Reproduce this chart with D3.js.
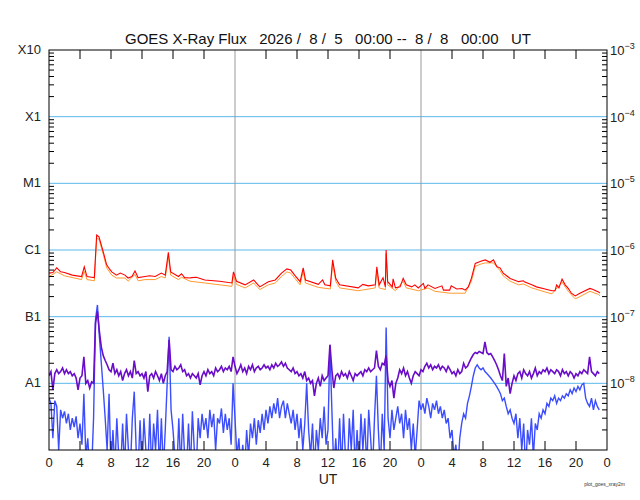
<!DOCTYPE html>
<html><head><meta charset="utf-8">
<script src="https://cdn.jsdelivr.net/npm/d3@7"></script>
<style>body{margin:0;background:#fff}</style>
</head><body>
<svg id="c" width="640" height="500"></svg>
<script>
// ---------- DATA ----------
const titleText = "GOES X-Ray Flux   2026 /  8 /  5   00:00 --  8 /  8   00:00   UT";
const classLabels = ["X10","X1","M1","C1","B1","A1"];
const classFlux   = [1e-3, 1e-4, 1e-5, 1e-6, 1e-7, 1e-8];
const powerLabels = ["-3","-4","-5","-6","-7","-8"];
const hourTickLabels = ["0","4","8","12","16","20","0","4","8","12","16","20","0","4","8","12","16","20","0"];
const totalHours = 72;

// Long channel, primary (red): [hour, W/m^2]
const redData = [
[0,4.5e-7],[0.5,4.6e-7],[1.0,5.4e-7],[1.5,4.7e-7],[2.0,4.6e-7],[3.0,4.2e-7],[4.2,4.0e-7],[4.55,5.6e-7],[4.9,4.0e-7],[5.5,3.9e-7],[5.85,3.85e-7],
[6.15,1.68e-6],[6.45,1.58e-6],[7.0,9.4e-7],[7.44,6.0e-7],[7.8,5.2e-7],[8.1,4.7e-7],[8.7,4.2e-7],[9.2,4.5e-7],[9.8,4.2e-7],[10.2,3.8e-7],[10.7,4.0e-7],
[11.1,4.85e-7],[11.5,3.85e-7],[12.4,4.0e-7],[13.0,4.1e-7],[13.7,4.0e-7],[14.5,4.5e-7],[15.0,4.2e-7],[15.4,9.2e-7],[15.7,4.7e-7],[16.7,4.0e-7],[17.1,4.4e-7],
[17.5,3.85e-7],[18.2,3.8e-7],[18.4,3.85e-7],[19.0,3.9e-7],[20.1,3.55e-7],[22.0,3.4e-7],[23.6,3.2e-7],[23.8,4.7e-7],[24.2,3.4e-7],[25.3,3.0e-7],[26.4,3.55e-7],
[27.2,2.8e-7],[28.3,3.35e-7],[29.2,3.55e-7],[30.0,4.5e-7],[30.7,5.2e-7],[31.2,5.0e-7],[31.7,4.2e-7],[32.4,3.35e-7],[32.8,5.4e-7],[33.1,3.55e-7],[34.75,3.05e-7],
[35.3,3.55e-7],[35.6,3.0e-7],[36.3,2.9e-7],[36.6,7.1e-7],[37.0,3.75e-7],[37.5,3.0e-7],[39.9,2.7e-7],[40.5,3.05e-7],[41.2,2.9e-7],[42.1,3.0e-7],[42.3,5.6e-7],
[42.6,3.0e-7],[43.1,3.85e-7],[43.4,2.8e-7],[43.5,1.0e-6],[43.7,3.35e-7],[44.3,2.8e-7],[44.4,3.7e-7],[44.7,2.7e-7],[45.3,2.8e-7],[45.7,3.75e-7],[46.1,3.0e-7],
[46.8,2.8e-7],[47.2,3.0e-7],[47.65,2.7e-7],[48.3,3.15e-7],[48.5,2.65e-7],[48.9,3.0e-7],[49.8,2.65e-7],[50.7,2.9e-7],[50.9,2.5e-7],[51.7,2.5e-7],[51.9,2.9e-7],
[52.6,2.6e-7],[53.3,2.65e-7],[53.7,2.5e-7],[54.1,2.8e-7],[54.5,3.75e-7],[55.0,6.3e-7],[55.8,6.85e-7],[56.3,7.1e-7],[56.9,6.55e-7],[57.35,7.1e-7],[57.8,5.6e-7],
[58.2,5.4e-7],[58.6,4.5e-7],[59.5,3.75e-7],[60.6,3.35e-7],[61.2,3.45e-7],[61.4,3.3e-7],[62.3,3.0e-7],[62.9,2.8e-7],[64.0,2.6e-7],[64.9,2.45e-7],[65.3,2.45e-7],
[65.5,3.0e-7],[65.8,2.7e-7],[66.2,3.65e-7],[66.6,3.0e-7],[67.0,2.65e-7],[67.4,2.25e-7],[67.9,2.05e-7],[68.5,2.25e-7],[69.8,2.65e-7],[70.2,2.55e-7],[70.9,2.35e-7],[71.1,2.25e-7]
];

// Long channel, secondary (orange): [hour, W/m^2]
const orangeData = [
[0,4.0e-7],[1.0,4.7e-7],[2.0,4.1e-7],[4.2,3.6e-7],[4.55,4.8e-7],[4.9,3.6e-7],[5.85,3.45e-7],[6.15,1.5e-6],[6.45,1.45e-6],[7.0,8.6e-7],[7.44,5.4e-7],
[8.1,4.2e-7],[8.7,3.8e-7],[9.8,3.8e-7],[10.2,3.4e-7],[11.1,4.3e-7],[11.5,3.45e-7],[12.4,3.6e-7],[13.7,3.6e-7],[14.5,4.0e-7],[15.0,3.8e-7],[15.4,8.0e-7],
[15.7,4.2e-7],[16.7,3.6e-7],[17.1,3.9e-7],[18.2,3.4e-7],[20.1,3.2e-7],[23.6,2.85e-7],[23.8,4.1e-7],[24.2,3.05e-7],[25.3,2.7e-7],[26.4,3.2e-7],[27.2,2.55e-7],
[28.3,3.0e-7],[29.2,3.2e-7],[30.0,4.0e-7],[30.7,4.7e-7],[31.2,4.5e-7],[31.7,3.8e-7],[32.4,3.0e-7],[32.8,4.8e-7],[33.1,3.2e-7],[34.75,2.75e-7],[36.3,2.6e-7],
[36.6,6.3e-7],[37.0,3.4e-7],[37.5,2.7e-7],[39.9,2.45e-7],[42.1,2.7e-7],[42.3,5.0e-7],[42.6,2.7e-7],[43.4,2.55e-7],[43.5,8.8e-7],[43.7,3.0e-7],[44.7,2.45e-7],
[45.7,3.4e-7],[46.1,2.7e-7],[47.65,2.45e-7],[48.9,2.7e-7],[49.8,2.4e-7],[51.7,2.25e-7],[53.7,2.25e-7],[54.5,3.4e-7],[55.0,5.7e-7],[55.8,6.2e-7],[56.3,6.4e-7],
[57.35,6.4e-7],[58.2,4.9e-7],[58.6,4.1e-7],[59.5,3.4e-7],[60.6,3.0e-7],[61.2,3.1e-7],[62.3,2.7e-7],[64.0,2.35e-7],[64.9,2.2e-7],[66.2,3.3e-7],[67.0,2.4e-7],
[67.9,1.85e-7],[68.5,2.0e-7],[69.8,2.4e-7],[70.9,2.15e-7],[71.1,2.05e-7]
];

// Short channels, sampled every 15 minutes from 00:00, in units of 1e-8 W/m^2
const shortStepHours = 0.25;
const shortUnit = 1e-8;
const purpleValues = [
1.3,1.5,0.8,1.4,1.6,1.4,1.5,1.7,1.4,1.6,1.4,1.5,1.3,1.4,1.2,0.8,
1.2,1.3,2.5,1.0,1.1,0.85,1.05,1.0,8,12,6,3.5,2.6,2.2,1.9,1.6,
1.5,2.0,1.4,1.6,1.3,1.5,1.1,1.4,1.6,1.3,1.5,1.2,2.2,1.4,1.5,1.3,
1.4,1.2,1.5,0.75,1.3,1.4,1.2,1.5,1.3,1.1,1.4,1.0,1.3,1.5,4.5,1.6,
1.5,1.8,1.6,1.7,1.9,1.5,1.6,1.3,1.4,1.2,1.4,1.3,1.2,1.4,0.95,1.3,
1.5,1.3,1.6,1.4,1.5,1.3,1.7,1.5,1.6,1.8,1.5,1.7,1.6,1.8,1.5,2.5,
1.8,1.4,1.6,1.9,1.5,1.7,1.4,1.8,1.6,1.9,1.5,1.7,1.8,1.6,1.7,1.9,
1.7,1.8,1.6,1.9,1.7,2.0,1.8,1.9,2.1,1.8,2.0,1.7,1.6,1.5,1.7,1.4,
1.5,1.3,1.4,1.2,1.5,1.1,1.2,1.0,1.1,0.65,1.0,1.2,0.9,1.3,1.1,1.2,
1.3,3.8,1.6,0.85,1.3,1.4,1.2,1.5,1.3,1.4,1.2,1.5,1.3,1.1,1.4,1.3,
1.4,1.5,1.3,1.6,1.5,1.7,1.5,1.6,1.7,3.1,1.8,1.6,2.0,1.9,2.6,1.1,
0.9,1.1,0.6,1.0,1.2,1.6,1.4,1.7,1.3,1.5,1.2,1.0,1.3,1.5,1.4,1.3,
1.6,1.5,1.8,2.0,1.7,1.9,1.6,1.8,1.7,1.9,1.6,1.8,1.7,1.5,1.8,1.6,
1.4,1.5,1.3,1.6,1.4,1.5,2.0,1.7,1.8,2.1,2.4,2.7,2.9,2.8,3.0,2.9,
2.8,4.2,2.9,2.7,2.8,2.5,2.2,1.9,1.6,1.3,1.1,2.8,0.9,1.2,0.7,1.0,
1.3,1.1,1.4,1.5,1.2,1.6,1.4,1.3,1.5,1.2,1.4,1.7,1.3,1.5,1.4,1.6,
1.5,1.7,1.4,1.6,1.5,1.4,1.6,1.5,1.3,1.6,1.4,1.5,1.3,1.5,1.4,1.2,
1.4,1.3,1.5,1.4,1.6,1.5,1.4,2.5,1.5,1.4,1.3,1.5,1.4
];
const blueValues = [
0.6,0.5,0.15,0.55,0.45,0.1,0.4,0.3,0.38,0.25,0.35,0.2,0.3,0.22,0.32,0.15,
0.25,0.12,0.7,0.08,0.15,0.05,0.05,0.3,9,15,5,2.0,0.8,0.3,0.1,0.7,
0.05,0.2,0.05,0.3,0.08,0.05,0.25,0.05,0.35,0.1,0.05,0.3,0.75,0.1,0.05,0.28,
0.05,0.3,0.1,0.05,0.35,0.05,0.25,0.1,0.4,0.05,0.3,0.05,0.2,1.0,5.0,0.4,
0.2,0.08,0.05,0.3,0.05,0.35,0.08,0.05,0.25,0.05,0.38,0.1,0.05,0.3,0.15,0.35,
0.2,0.3,0.15,0.4,0.22,0.35,0.1,0.3,0.25,0.42,0.18,0.35,0.2,0.3,0.12,1.0,
0.3,0.08,0.15,0.05,0.12,0.05,0.2,0.08,0.25,0.15,0.3,0.12,0.28,0.18,0.35,0.2,
0.4,0.25,0.45,0.3,0.5,0.35,0.6,0.3,0.45,0.55,0.3,0.5,0.35,0.25,0.4,0.2,
0.35,0.15,0.3,0.1,0.25,1.0,0.2,0.08,0.25,0.05,0.2,0.1,0.3,0.15,0.45,0.12,
0.2,3.7,0.4,0.05,0.15,0.05,0.3,0.05,0.35,0.08,0.05,0.3,0.1,0.4,0.05,0.2,
0.05,0.35,0.1,0.3,0.05,0.4,0.15,0.05,0.3,1.3,0.2,0.05,0.35,0.1,6.9,0.3,
0.15,0.4,0.2,0.3,0.45,0.25,0.35,0.15,0.4,0.2,0.3,0.1,0.25,0.08,0.2,0.55,
0.4,0.5,0.35,0.6,0.45,0.3,0.5,0.4,0.55,0.35,0.45,0.3,0.4,0.25,0.3,0.15,
0.2,0.08,0.12,0.05,0.15,0.25,0.35,0.3,0.5,0.65,0.9,1.3,1.7,1.9,1.7,1.6,
1.7,1.5,1.4,1.3,1.2,1.1,1.0,0.9,0.8,0.7,0.55,0.6,0.45,0.35,0.4,0.3,
0.25,0.35,0.15,0.3,0.1,0.25,0.05,0.2,0.12,0.3,0.08,0.25,0.2,0.35,0.3,0.4,
0.35,0.5,0.45,0.6,0.55,0.65,0.5,0.6,0.55,0.65,0.6,0.7,0.65,0.8,0.7,0.85,
0.75,0.9,0.8,0.95,1.0,0.6,0.5,0.45,0.6,0.4,0.55,0.45,0.4
];

// ---------- CHART ----------
const svg = d3.select("#c");
const L = 49, R = 607, T = 50, B = 450;
const font = "Liberation Sans, Arial, sans-serif";

const x = d3.scaleLinear().domain([0, totalHours]).range([L, R]);
const y = d3.scaleLog().domain([1e-9, 1e-3]).range([B, T]);

svg.append("defs").append("clipPath").attr("id","clip")
  .append("rect").attr("x",L).attr("y",T).attr("width",R-L).attr("height",B-T);

// horizontal class grid lines
svg.append("g").selectAll("line").data(classFlux.slice(1)).join("line")
  .attr("x1",L).attr("x2",R).attr("y1",d=>y(d)).attr("y2",d=>y(d))
  .attr("stroke","#5cb8ec").attr("stroke-width",1);

// day separators
svg.append("g").selectAll("line").data([24,48]).join("line")
  .attr("x1",d=>x(d)).attr("x2",d=>x(d)).attr("y1",T).attr("y2",B)
  .attr("stroke","#999").attr("stroke-width",1);

// series
const lineXY = d3.line().x(d=>x(d[0])).y(d=>y(d[1]));
const shortSeries = vals => vals.map((v,i)=>[i*shortStepHours, v*shortUnit]);
const g = svg.append("g").attr("clip-path","url(#clip)");
g.append("path").datum(shortSeries(blueValues)).attr("d",lineXY)
  .attr("fill","none").attr("stroke","#3b4dff").attr("stroke-width",1.4);
g.append("path").datum(shortSeries(purpleValues)).attr("d",lineXY)
  .attr("fill","none").attr("stroke","#6a0dc8").attr("stroke-width",1.6);
g.append("path").datum(orangeData).attr("d",lineXY)
  .attr("fill","none").attr("stroke","#ff9a30").attr("stroke-width",1);
g.append("path").datum(redData).attr("d",lineXY)
  .attr("fill","none").attr("stroke","#ff0000").attr("stroke-width",1.1);

// frame
svg.append("rect").attr("x",L).attr("y",T).attr("width",R-L).attr("height",B-T)
  .attr("fill","none").attr("stroke","#000").attr("stroke-width",1);

// log minor ticks left & right
const minor = [];
for (let e=-9; e<-3; e++) for (let m=2; m<=9; m++) minor.push(m*Math.pow(10,e));
svg.append("g").selectAll("line").data(minor).join("line")
  .attr("x1",L).attr("x2",L+5).attr("y1",d=>y(d)).attr("y2",d=>y(d)).attr("stroke","#000");
svg.append("g").selectAll("line").data(minor).join("line")
  .attr("x1",R).attr("x2",R-5).attr("y1",d=>y(d)).attr("y2",d=>y(d)).attr("stroke","#000");

// hour ticks top & bottom
const hourTicks = hourTickLabels.map((_,i)=>i*4);
const inner = hourTicks.filter(h=>h>0 && h<totalHours && h%24!==0);
svg.append("g").selectAll("line").data(inner).join("line")
  .attr("x1",d=>x(d)).attr("x2",d=>x(d)).attr("y1",T).attr("y2",T+9).attr("stroke","#000");
svg.append("g").selectAll("line").data(inner).join("line")
  .attr("x1",d=>x(d)).attr("x2",d=>x(d)).attr("y1",B).attr("y2",B-9).attr("stroke","#000");

// x labels
svg.append("g").selectAll("text").data(hourTickLabels).join("text")
  .attr("x",(d,i)=>x(hourTicks[i])).attr("y",467).attr("text-anchor","middle")
  .attr("font-family",font).attr("font-size",13).attr("fill","#222").text(d=>d);
svg.append("text").attr("x",328).attr("y",484).attr("text-anchor","middle")
  .attr("font-family",font).attr("font-size",14).attr("fill","#222").text("UT");

// left class labels
svg.append("g").selectAll("text").data(classLabels).join("text")
  .attr("x",41).attr("y",(d,i)=>y(classFlux[i])+4).attr("text-anchor","end")
  .attr("font-family",font).attr("font-size",13).attr("fill","#222").text(d=>d);

// right power labels
const rl = svg.append("g").selectAll("text").data(powerLabels).join("text")
  .attr("x",610).attr("y",(d,i)=>y(classFlux[i])+5)
  .attr("font-family",font).attr("font-size",13).attr("fill","#222");
rl.append("tspan").text("10");
rl.append("tspan").attr("dy",-6).attr("font-size",9).text(d=>d.replace("-","\u2212"));

// title
svg.append("text").attr("x",328).attr("y",44).attr("text-anchor","middle")
  .attr("font-family",font).attr("font-size",15).attr("fill","#111")
  .style("white-space","pre").text(titleText);

// footer
svg.append("text").attr("x",625).attr("y",486).attr("text-anchor","end")
  .attr("font-family",font).attr("font-size",5).attr("fill","#333").text("plot_goes_xray2m");
</script>
</body></html>
